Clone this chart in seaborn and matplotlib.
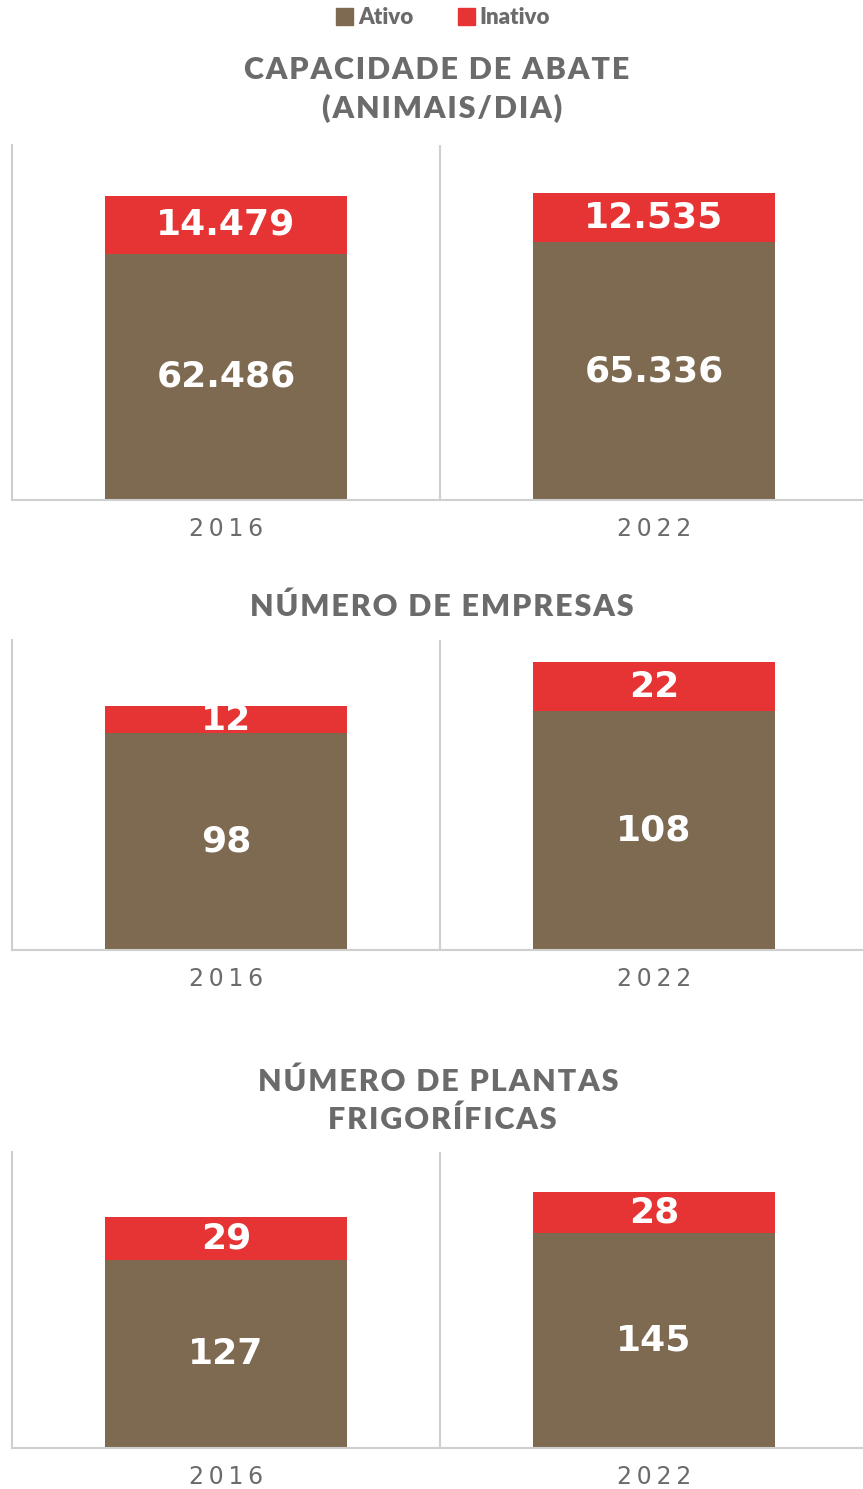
import numpy as np
import pandas as pd
import seaborn as sns
import matplotlib.pyplot as plt
from matplotlib.patches import Patch

years = ["2016", "2022"]
cap_ativo = [62486, 65336]
cap_inativo = [14479, 12535]
emp_ativo = [98, 108]
emp_inativo = [12, 22]
pla_ativo = [127, 145]
pla_inativo = [29, 28]

BROWN = "#7d6a50"
RED = "#e63333"
GRAY = "#6b6b6b"
LINE = "#cfcfcf"

sns.set_style("white")
plt.rcParams['font.family'] = ['Lato', 'DejaVu Sans']

W, H = 863, 1489
fig = plt.figure(figsize=(W / 100, H / 100), dpi=100)

def fmt(v):
    return f"{v:,}".replace(",", ".")

def spaced(s, sep="\u200a"):
    # rough letter spacing
    return sep.join(s)

def panel(top, bottom, ymax, ativo, inativo):
    ax = fig.add_axes([12 / W, (H - bottom) / H, 856 / W, (bottom - top) / H])
    df = pd.DataFrame({"ano": years, "ativo": ativo,
                       "total": np.array(ativo) + np.array(inativo)})
    sns.barplot(data=df, x="ano", y="total", color=RED, width=0.565,
                saturation=1, linewidth=0, ax=ax)
    sns.barplot(data=df, x="ano", y="ativo", color=BROWN, width=0.565,
                saturation=1, linewidth=0, ax=ax)
    ax.set_xlim(-0.5, 1.5)
    ax.set_ylim(0, ymax)
    ax.axvline(0.5, color=LINE, lw=1.5)
    for s in ["top", "right"]:
        ax.spines[s].set_visible(False)
    for s in ["left", "bottom"]:
        ax.spines[s].set_color(LINE)
        ax.spines[s].set_linewidth(1.5)
    ax.set_yticks([])
    ax.set_xlabel("")
    ax.set_ylabel("")
    ax.set_xticks([0, 1])
    ax.set_xticklabels([spaced(y, "\u2009") for y in years],
                       family="DejaVu Sans")
    ax.tick_params(axis="x", length=0, pad=12, labelsize=17, labelcolor=GRAY)
    vkw = dict(ha="center", va="center", color="white", fontsize=26,
               fontweight="bold", family="DejaVu Sans")
    for i in range(2):
        ax.text(i, ativo[i] / 2, fmt(ativo[i]), **vkw)
        ax.text(i, ativo[i] + inativo[i] / 2, fmt(inativo[i]), **vkw)
    return ax

panel(145, 500, 90000, cap_ativo, cap_inativo)
panel(640, 950, 140, emp_ativo, emp_inativo)
panel(1152, 1448, 200, pla_ativo, pla_inativo)

tkw = dict(ha="center", va="center", color=GRAY, fontsize=22, fontweight="heavy")
fig.text(437 / W, 1 - 70 / H, spaced("CAPACIDADE DE ABATE"), **tkw)
fig.text(442 / W, 1 - 108 / H, spaced("(ANIMAIS/DIA)"), **tkw)
fig.text(442 / W, 1 - 607 / H, spaced("NÚMERO DE EMPRESAS"), **tkw)
fig.text(438 / W, 1 - 1082 / H, spaced("NÚMERO DE PLANTAS"), **tkw)
fig.text(442 / W, 1 - 1120 / H, spaced("FRIGORÍFICAS"), **tkw)

handles = [Patch(color=BROWN, label="Ativo"), Patch(color=RED, label="Inativo")]
leg = fig.legend(handles=handles, loc="center", bbox_to_anchor=(443 / W, 1 - 18 / H),
                 ncol=2, frameon=False, handlelength=0.8, handleheight=0.8,
                 handletextpad=0.2, columnspacing=2.0,
                 prop={"size": 16, "weight": "heavy"})
for t in leg.get_texts():
    t.set_color(GRAY)

fig.savefig("out.png", dpi=100)
